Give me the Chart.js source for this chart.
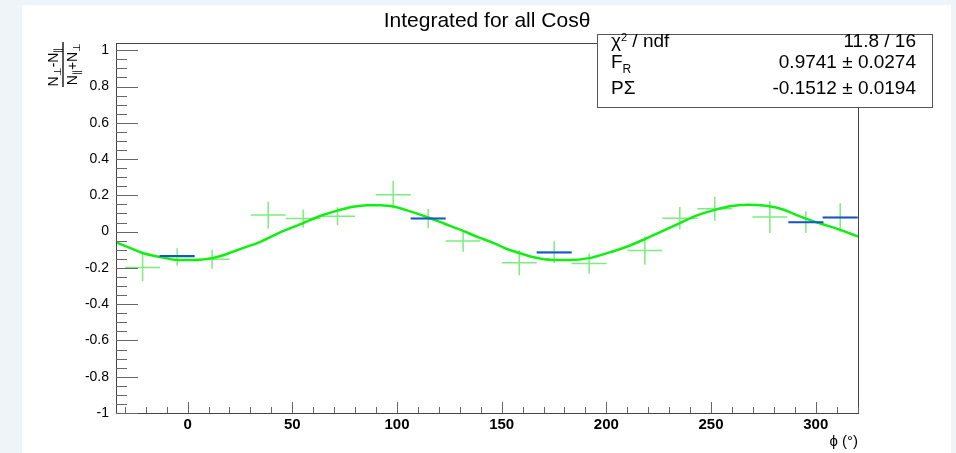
<!DOCTYPE html>
<html>
<head>
<meta charset="utf-8">
<script src="https://cdn.jsdelivr.net/npm/chart.js@4/dist/chart.umd.min.js"></script>
<style>
  html, body { margin: 0; padding: 0; background: #eef4f7; }
  #wrap { width: 956px; height: 453px; }
</style>
</head>
<body>
<div id="wrap"><canvas id="fitChart" width="956" height="453"></canvas></div>
<script>
// measured points (phi in degrees, asymmetry value, error)
const phiBins = [-21.5, -5.0, 11.7, 38.5, 55.2, 71.6, 98.2, 114.9, 131.6, 158.4, 175.1, 191.8, 218.4, 235.1, 251.8, 278.1, 295.3, 311.7];
const asymValues = [-0.198, -0.140, -0.152, 0.091, 0.072, 0.085, 0.203, 0.072, -0.051, -0.172, -0.113, -0.176, -0.104, 0.074, 0.126, 0.080, 0.052, 0.078];
const asymErrors = [0.076, 0.048, 0.052, 0.074, 0.050, 0.050, 0.076, 0.053, 0.060, 0.069, 0.060, 0.055, 0.078, 0.062, 0.066, 0.087, 0.060, 0.078];
const binHalfWidth = 8.35;

// blue bin markers visible over some points
const bluePhi = [-5.0, 114.9, 175.1, 295.3, 311.7];
const blueValues = [-0.135, 0.072, -0.115, 0.052, 0.078];

// fit curve
const fitPhi = [-34.2, -27, -21.5, -13.2, -5, 3, 11.7, 17, 21.8, 27, 33.3, 44, 55.2, 63, 71.6, 79, 86, 92, 98.2, 106, 114.9, 123, 131.6, 139, 146.3, 152, 158.4, 166, 174, 182, 191.8, 200, 210, 218.4, 226, 235.1, 243, 251.8, 260, 268, 275, 282, 295.3, 303, 311.7, 320.2];
const fitValues = [-0.060, -0.092, -0.118, -0.140, -0.156, -0.157, -0.146, -0.130, -0.110, -0.088, -0.063, -0.005, 0.047, 0.085, 0.116, 0.137, 0.146, 0.145, 0.138, 0.113, 0.078, 0.042, 0.004, -0.032, -0.063, -0.093, -0.118, -0.143, -0.156, -0.157, -0.146, -0.120, -0.082, -0.041, -0.001, 0.047, 0.088, 0.120, 0.141, 0.148, 0.144, 0.130, 0.072, 0.042, 0.010, -0.027];

const xTickValues = [0, 50, 100, 150, 200, 250, 300];
const yTickValues = [-1, -0.8, -0.6, -0.4, -0.2, 0, 0.2, 0.4, 0.6, 0.8, 1];

const statsLabels = ['χ² / ndf', 'F', 'PΣ'];
const statsValues = ['11.8 / 16', '0.9741 ± 0.0274', '-0.1512 ± 0.0194'];

const FONT = '"Liberation Sans", Arial, Helvetica, sans-serif';

function hBars(xs, ys) {
    const pts = [];
    xs.forEach((x, i) => {
        pts.push({ x: x - binHalfWidth, y: ys[i] });
        pts.push({ x: x + binHalfWidth, y: ys[i] });
        pts.push({ x: x, y: null });
    });
    return pts;
}

function vBars(xs, ys, errs) {
    const pts = [];
    xs.forEach((x, i) => {
        pts.push({ x: x, y: ys[i] - errs[i] });
        pts.push({ x: x, y: ys[i] + errs[i] });
        pts.push({ x: x, y: null });
    });
    return pts;
}

const rootLook = {
    id: 'rootLook',
    beforeDraw(chart) {
        const ctx = chart.ctx;
        ctx.save();
        ctx.fillStyle = '#eef4f7';
        ctx.fillRect(0, 0, chart.width, chart.height);
        ctx.fillStyle = '#ffffff';
        ctx.fillRect(22, 5, 929, 448);
        ctx.restore();
    },
    afterDraw(chart) {
        const ctx = chart.ctx;
        const a = chart.chartArea;
        const xs = chart.scales.x, ys = chart.scales.y;
        ctx.save();

        // frame
        ctx.strokeStyle = '#444';
        ctx.lineWidth = 1;
        ctx.strokeRect(Math.round(a.left) + 0.5, Math.round(a.top) + 0.5, Math.round(a.right - a.left), Math.round(a.bottom - a.top));

        // inward tick marks
        ctx.strokeStyle = '#666';
        ctx.beginPath();
        for (let v = -30; v <= 320; v += 10) {
            const px = Math.round(xs.getPixelForValue(v)) + 0.5;
            const len = (v % 50 === 0) ? 11 : 6;
            ctx.moveTo(px, a.bottom);
            ctx.lineTo(px, a.bottom - len);
        }
        for (let k = -20; k <= 20; k++) {
            const v = k * 0.05;
            const py = Math.round(ys.getPixelForValue(v)) + 0.5;
            const len = (k % 4 === 0) ? 22 : 11;
            ctx.moveTo(a.left, py);
            ctx.lineTo(a.left + len, py);
        }
        ctx.stroke();

        // title
        ctx.fillStyle = '#000';
        ctx.font = '21px ' + FONT;
        ctx.textAlign = 'center';
        ctx.textBaseline = 'alphabetic';
        ctx.fillText('Integrated for all Cosθ', 487, 27);

        // x axis title
        ctx.font = '15px ' + FONT;
        ctx.textAlign = 'right';
        ctx.fillText('ϕ (°)', a.right, 446);

        // y axis title (rotated fraction)
        ctx.save();
        ctx.translate(63, 64);
        ctx.rotate(-Math.PI / 2);
        ctx.textAlign = 'left';
        const drawTerm = (parts, x0, base) => {
            let x = x0;
            parts.forEach(p => {
                ctx.font = (p.sub ? '10px ' : '14px ') + FONT;
                ctx.fillText(p.t, x, base + (p.sub ? 3 : 0));
                x += ctx.measureText(p.t).width;
            });
            return x - x0;
        };
        const num = [{ t: 'N' }, { t: '⊥', sub: true }, { t: '-' }, { t: 'N' }, { t: '∥', sub: true }];
        const den = [{ t: 'N' }, { t: '∥', sub: true }, { t: '+' }, { t: 'N' }, { t: '⊥', sub: true }];
        ctx.globalAlpha = 0;
        const wNum = drawTerm(num, 0, 0);
        const wDen = drawTerm(den, 0, 0);
        ctx.globalAlpha = 1;
        drawTerm(num, -wNum / 2 - 3, -5);
        drawTerm(den, -wDen / 2, 14);
        ctx.strokeStyle = '#000';
        ctx.lineWidth = 1.3;
        ctx.beginPath();
        ctx.moveTo(-23, 0);
        ctx.lineTo(22, 0);
        ctx.stroke();
        ctx.restore();

        // stats box
        ctx.fillStyle = '#fff';
        ctx.fillRect(597.5, 34.5, 335, 73);
        ctx.strokeStyle = '#555';
        ctx.lineWidth = 1;
        ctx.strokeRect(597.5, 34.5, 335, 73);
        ctx.fillStyle = '#000';
        const baselines = [47, 68, 94];
        statsLabels.forEach((lab, i) => {
            ctx.font = '19px ' + FONT;
            ctx.textAlign = 'left';
            if (i === 0) {
                ctx.fillText('χ', 611, baselines[i]);
                let w = ctx.measureText('χ').width;
                ctx.font = '11px ' + FONT;
                ctx.fillText('2', 611 + w, baselines[i] - 6);
                w += ctx.measureText('2').width;
                ctx.font = '19px ' + FONT;
                ctx.fillText(' / ndf', 611 + w, baselines[i]);
            } else if (i === 1) {
                ctx.fillText(lab, 611, baselines[i]);
                const w = ctx.measureText(lab).width;
                ctx.font = '12px ' + FONT;
                ctx.fillText('R', 611 + w, baselines[i] + 5);
            } else {
                ctx.fillText(lab, 611, baselines[i]);
            }
            ctx.font = '19px ' + FONT;
            ctx.textAlign = 'right';
            ctx.fillText(statsValues[i], 916, baselines[i]);
        });

        ctx.restore();
    }
};

new Chart(document.getElementById('fitChart'), {
    type: 'line',
    data: {
        datasets: [
            {
                label: 'bins',
                data: hBars(bluePhi, blueValues),
                borderColor: '#1f4fd6',
                borderWidth: 2,
                pointRadius: 0,
                spanGaps: false,
                order: 0
            },
            {
                label: 'fit',
                data: fitPhi.map((x, i) => ({ x: x, y: fitValues[i] })),
                borderColor: '#11ee11',
                borderWidth: 2.5,
                pointRadius: 0,
                cubicInterpolationMode: 'monotone',
                order: 1
            },
            {
                label: 'data x',
                data: hBars(phiBins, asymValues),
                borderColor: '#7ced7c',
                borderWidth: 1.5,
                pointRadius: 0,
                spanGaps: false,
                order: 2
            },
            {
                label: 'data y',
                data: vBars(phiBins, asymValues, asymErrors),
                borderColor: '#7ced7c',
                borderWidth: 1.5,
                pointRadius: 0,
                spanGaps: false,
                order: 3
            }
        ]
    },
    options: {
        responsive: false,
        animation: false,
        events: [],
        layout: { padding: { left: 22, top: 43, right: 98, bottom: 0 } },
        plugins: {
            legend: { display: false },
            tooltip: { enabled: false },
            title: { display: false }
        },
        scales: {
            x: {
                type: 'linear',
                min: -34.2,
                max: 320.2,
                afterBuildTicks: s => { s.ticks = xTickValues.map(v => ({ value: v })); },
                afterFit: s => { s.height = 40; },
                grid: { display: false, drawTicks: false },
                border: { display: false },
                ticks: {
                    autoSkip: false,
                    maxRotation: 0,
                    padding: 3,
                    color: '#000',
                    font: { family: FONT, size: 15, weight: 'bold' }
                }
            },
            y: {
                type: 'linear',
                min: -1,
                max: 1.04,
                afterBuildTicks: s => { s.ticks = yTickValues.map(v => ({ value: v })); },
                afterFit: s => { s.width = 94; },
                grid: { display: false, drawTicks: false },
                border: { display: false },
                ticks: {
                    autoSkip: false,
                    padding: 7,
                    color: '#000',
                    font: { family: FONT, size: 14 },
                    callback: v => String(Math.round(v * 10) / 10)
                }
            }
        }
    },
    plugins: [rootLook]
});
</script>
</body>
</html>
